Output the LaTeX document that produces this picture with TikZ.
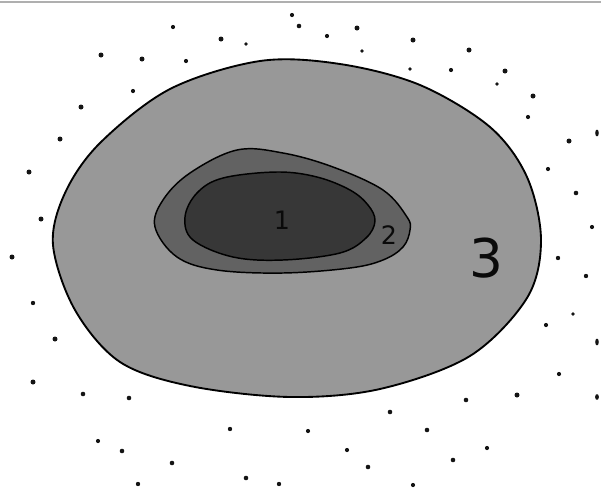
\documentclass[tikz,border=0pt]{standalone}
\usepackage{fontspec}
\setmainfont{DejaVu Sans}

\tikzset{every picture/.style={line width=0.75pt}}
\tikzset{dot/.style={fill={rgb, 255:red, 20; green, 20; blue, 20 }}}
\tikzset{zonelabel/.style={anchor=center, inner sep=0.75pt, text={rgb, 255:red, 10; green, 10; blue, 10 }}}

\begin{document}
\begin{tikzpicture}[x=0.75pt,y=0.75pt,yscale=-1,xscale=1]
\useasboundingbox (0,0) rectangle (601,490);

%Top rule
\draw [color={rgb, 255:red, 175; green, 175; blue, 175 }, line width=1.5] (0,2) -- (601,2);

%Zone 3
\draw [line width=1.4, fill={rgb, 255:red, 152; green, 152; blue, 152 }] plot [smooth cycle, tension=0.55] coordinates {(53,245) (65,193) (100,143) (170,89) (260,61) (340,64) (420,85) (490,127) (527,177) (541,240) (527,298) (470,356) (380,389) (290,397) (190,386) (120,362) (75,310)};
%Zone 2
\draw [line width=1.1, fill={rgb, 255:red, 98; green, 98; blue, 98 }] plot [smooth cycle, tension=0.6] coordinates {(155,227) (163,200) (190,173) (237,150) (283,153) (333,167) (383,190) (407,217) (410,230) (403,247) (383,260) (350,268) (283,273) (217,270) (177,257)};
%Zone 1
\draw [line width=1.1, fill={rgb, 255:red, 55; green, 55; blue, 55 }] plot [smooth cycle, tension=0.6] coordinates {(185,217) (197,193) (223,178) (277,172) (317,177) (350,190) (368,205) (375,221) (366,238) (340,253) (283,260) (233,257) (193,240)};

% Text Node
\node [zonelabel, font=\fontsize{19}{19}\selectfont] (one) at (282,220) {1};
% Text Node
\node [zonelabel, font=\fontsize{19}{19}\selectfont] (two) at (389,235) {2};
% Text Node
\node [zonelabel, font=\fontsize{40}{40}\selectfont] (three) at (486,258) {3};

%Dots
\fill [dot] (292,15) circle (2.1);
\fill [dot] (299,26) circle (2.3);
\fill [dot] (173,27) circle (2.1);
\fill [dot] (221,39) circle (2.5);
\fill [dot] (246,44) circle (1.8);
\fill [dot] (101,55) circle (2.5);
\fill [dot] (142,59) circle (2.5);
\fill [dot] (186,61) circle (2.1);
\fill [dot] (133,91) circle (2.1);
\fill [dot] (81,107) circle (2.5);
\fill [dot] (60,139) circle (2.5);
\fill [dot] (29,172) circle (2.5);
\fill [dot] (41,219) circle (2.5);
\fill [dot] (357,28) circle (2.5);
\fill [dot] (327,36) circle (2.1);
\fill [dot] (362,51) circle (1.9);
\fill [dot] (413,40) circle (2.5);
\fill [dot] (469,50) circle (2.5);
\fill [dot] (410,69) circle (1.9);
\fill [dot] (451,70) circle (2.1);
\fill [dot] (505,71) circle (2.5);
\fill [dot] (497,84) circle (1.9);
\fill [dot] (533,96) circle (2.5);
\fill [dot] (528,117) circle (2.1);
\fill [dot] (569,141) circle (2.5);
\fill [dot] (597,133) ellipse (1.8 and 3.4);
\fill [dot] (548,169) circle (2.1);
\fill [dot] (576,193) circle (2.3);
\fill [dot] (592,227) circle (2.1);
\fill [dot] (12,257) circle (2.5);
\fill [dot] (33,303) circle (2.2);
\fill [dot] (55,339) circle (2.5);
\fill [dot] (33,382) circle (2.5);
\fill [dot] (83,394) circle (2.3);
\fill [dot] (129,398) circle (2.3);
\fill [dot] (230,429) circle (2.2);
\fill [dot] (98,441) circle (2.1);
\fill [dot] (122,451) circle (2.3);
\fill [dot] (172,463) circle (2.3);
\fill [dot] (246,478) circle (2.3);
\fill [dot] (279,484) circle (2.2);
\fill [dot] (138,484) circle (2.2);
\fill [dot] (558,258) circle (2.2);
\fill [dot] (586,276) circle (2.2);
\fill [dot] (573,314) circle (1.9);
\fill [dot] (546,325) circle (2.1);
\fill [dot] (597,342) ellipse (1.8 and 3.4);
\fill [dot] (559,374) circle (2.1);
\fill [dot] (517,395) circle (2.5);
\fill [dot] (597,397) ellipse (1.9 and 2.9);
\fill [dot] (466,400) circle (2.3);
\fill [dot] (390,412) circle (2.3);
\fill [dot] (308,431) circle (2.1);
\fill [dot] (427,430) circle (2.3);
\fill [dot] (347,450) circle (2.1);
\fill [dot] (487,448) circle (2.1);
\fill [dot] (453,460) circle (2.3);
\fill [dot] (368,467) circle (2.3);
\fill [dot] (413,485) circle (2.1);

\end{tikzpicture}
\end{document}
